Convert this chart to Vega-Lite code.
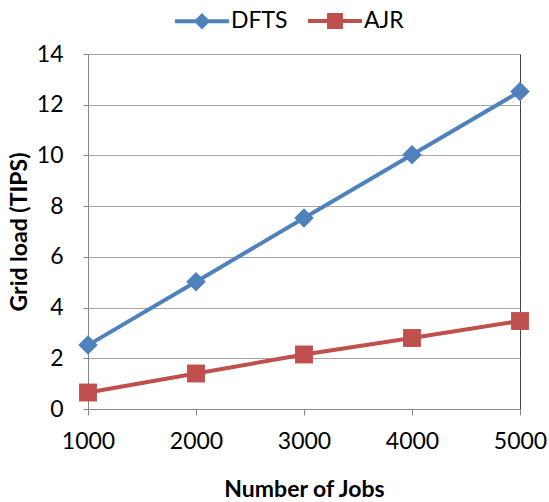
{
  "$schema": "https://vega.github.io/schema/vega-lite/v6.json",
  "width": 432,
  "height": 355,
  "autosize": "none",
  "padding": {"left": 88, "top": 54, "right": 29, "bottom": 93},
  "background": "white",
  "config": {
    "font": "Lato",
    "view": {"stroke": "#404040", "strokeWidth": 1}
  },
  "data": {
    "values": [
      {"jobs": 1000, "series": "DFTS", "load": 2.52},
      {"jobs": 2000, "series": "DFTS", "load": 5.02},
      {"jobs": 3000, "series": "DFTS", "load": 7.53},
      {"jobs": 4000, "series": "DFTS", "load": 10.03},
      {"jobs": 5000, "series": "DFTS", "load": 12.52},
      {"jobs": 1000, "series": "AJR", "load": 0.65},
      {"jobs": 2000, "series": "AJR", "load": 1.4},
      {"jobs": 3000, "series": "AJR", "load": 2.15},
      {"jobs": 4000, "series": "AJR", "load": 2.8},
      {"jobs": 5000, "series": "AJR", "load": 3.47}
    ]
  },
  "encoding": {
    "x": {
      "field": "jobs", "type": "quantitative",
      "scale": {"domain": [1000, 5000], "nice": false, "zero": false},
      "axis": {
        "values": [1000, 2000, 3000, 4000, 5000], "format": "d",
        "title": "Number of Jobs", "grid": false,
        "domainColor": "#868686", "tickColor": "#868686", "tickSize": 6,
        "labelFont": "Lato", "labelFontSize": 23, "labelColor": "#000000",
        "labelPadding": 15, "labelFlush": false,
        "titleFont": "Lato", "titleFontSize": 23, "titleFontWeight": "bold", "titleColor": "#000000",
        "titlePadding": 25
      }
    },
    "y": {
      "field": "load", "type": "quantitative",
      "scale": {"domain": [0, 14], "nice": false},
      "axis": {
        "values": [0, 2, 4, 6, 8, 10, 12, 14],
        "title": "Grid load (TIPS)",
        "gridColor": "#A6A6A6", "gridWidth": 1,
        "domainColor": "#868686", "tickColor": "#868686", "tickSize": 5,
        "labelFont": "Lato", "labelFontSize": 23, "labelColor": "#000000",
        "labelPadding": 20,
        "titleFont": "Lato", "titleFontSize": 23, "titleFontWeight": "bold", "titleColor": "#000000",
        "titlePadding": 5
      }
    }
  },
  "resolve": {"legend": {"color": "independent"}},
  "layer": [
    {
      "mark": {"type": "line", "strokeWidth": 4},
      "encoding": {
        "color": {
          "field": "series", "type": "nominal",
          "scale": {"domain": ["DFTS", "AJR"], "range": ["#4F81BD", "#C0504D"]},
          "legend": {
            "title": null,
            "orient": "none",
            "direction": "horizontal",
            "legendX": 85,
            "legendY": -62,
            "symbolSize": 2916,
            "symbolStrokeWidth": 4,
            "labelFont": "Lato",
            "labelFontSize": 23,
            "labelColor": "#000000",
            "labelOffset": 0,
            "columnPadding": 12,
            "encode": {
              "symbols": {
                "update": {
                  "shape": {"signal": "datum.value === 'DFTS' ? 'M-1,0L1,0M0,-0.2L0.2,0L0,0.2L-0.2,0Z' : 'M-1,0L1,0M-0.22,-0.22L0.22,-0.22L0.22,0.22L-0.22,0.22Z'"},
                  "stroke": {"signal": "datum.value === 'DFTS' ? '#4F81BD' : '#C0504D'"},
                  "fill": {"signal": "datum.value === 'DFTS' ? '#4F81BD' : '#C0504D'"},
                  "opacity": {"value": 1},
                  "strokeWidth": {"value": 4}
                }
              }
            }
          }
        }
      }
    },
    {
      "mark": {"type": "point", "filled": true, "opacity": 1},
      "encoding": {
        "shape": {
          "field": "series", "type": "nominal",
          "scale": {"domain": ["DFTS", "AJR"], "range": ["diamond", "square"]},
          "legend": null
        },
        "size": {
          "field": "series", "type": "nominal",
          "scale": {"domain": ["DFTS", "AJR"], "range": [380, 320]},
          "legend": null
        },
        "color": {
          "field": "series", "type": "nominal",
          "scale": {"domain": ["DFTS", "AJR"], "range": ["#4F81BD", "#C0504D"]},
          "legend": null
        }
      }
    }
  ]
}
